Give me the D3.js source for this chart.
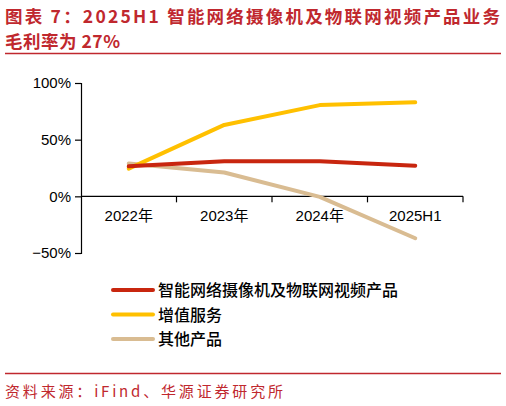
<!DOCTYPE html>
<html>
<head>
<meta charset="utf-8">
<script src="https://cdn.jsdelivr.net/npm/d3@7"></script>
<style>
  body { margin: 0; background: #fff; }
  svg { display: block; }
</style>
</head>
<body>
<script>
"use strict";

var categories = ["2022年", "2023年", "2024年", "2025H1"];
var seriesNames = ["智能网络摄像机及物联网视频产品", "增值服务", "其他产品"];
var cameraValues = [26.5, 31, 31, 27];
var serviceValues = [24.5, 63, 80.5, 83];
var otherValues = [29, 21, -0.5, -37];
var yTicks = [-50, 0, 50, 100];
var seriesColors = ["#C8260F", "#FFC000", "#D9BC92"];

function init() {
  var w = 506;
  var h = 406;
  var red = "#C0282E";
  var font = "'Liberation Sans', Arial, 'Noto Sans CJK SC', sans-serif";
  var cjk = "'Noto Sans CJK SC', sans-serif";

  var svg = d3.select("body")
    .append("svg")
    .attr("width", w)
    .attr("height", h);

  // title
  svg.append("text")
    .attr("x", 5)
    .attr("y", 23)
    .attr("textLength", 495)
    .attr("lengthAdjust", "spacing")
    .attr("font-family", cjk)
    .attr("font-weight", "bold")
    .attr("font-size", "17.5px")
    .attr("fill", red)
    .text("图表 7：2025H1 智能网络摄像机及物联网视频产品业务");

  svg.append("text")
    .attr("x", 5)
    .attr("y", 48)
    .attr("textLength", 115)
    .attr("lengthAdjust", "spacing")
    .attr("font-family", cjk)
    .attr("font-weight", "bold")
    .attr("font-size", "17.5px")
    .attr("fill", red)
    .text("毛利率为 27%");

  svg.append("line")
    .attr("x1", 5).attr("x2", 501)
    .attr("y1", 53.5).attr("y2", 53.5)
    .attr("stroke", red)
    .attr("stroke-width", 1.5);

  var left = 81, right = 463;

  var xScale = d3.scaleBand()
    .domain(categories)
    .range([left, right]);

  var yScale = d3.scaleLinear()
    .domain([-50, 100])
    .range([253, 83]);

  // y axis
  var yAxis = d3.axisLeft(yScale)
    .tickValues(yTicks)
    .tickSize(6)
    .tickPadding(4)
    .tickFormat(function (d) { return d + "%"; });

  var gy = svg.append("g")
    .attr("transform", "translate(" + left + ",0)")
    .call(yAxis);
  gy.select(".domain").attr("stroke", "#000").attr("stroke-width", 1.2);
  gy.selectAll(".tick line").attr("stroke", "#000").attr("stroke-width", 1.2);
  gy.selectAll("text")
    .attr("font-family", font)
    .attr("font-size", "15px")
    .attr("fill", "#000")
    .text(function (d) { return d < 0 ? "\u2212" + (-d) + "%" : d + "%"; });

  // x axis at zero
  var y0 = yScale(0);
  svg.append("line")
    .attr("x1", left).attr("x2", right)
    .attr("y1", y0).attr("y2", y0)
    .attr("stroke", "#000")
    .attr("stroke-width", 1.2);

  var bounds = categories.map(function (c) { return xScale(c) + xScale.bandwidth(); });
  svg.selectAll("line.xtick")
    .data(bounds)
    .enter()
    .append("line")
    .attr("class", "xtick")
    .attr("x1", function (d) { return d; })
    .attr("x2", function (d) { return d; })
    .attr("y1", y0)
    .attr("y2", y0 + 6)
    .attr("stroke", "#000")
    .attr("stroke-width", 1.2);

  svg.selectAll("text.xlabel")
    .data(categories)
    .enter()
    .append("text")
    .attr("class", "xlabel")
    .attr("x", function (d) { return xScale(d) + xScale.bandwidth() / 2; })
    .attr("y", 221)
    .attr("text-anchor", "middle")
    .attr("font-family", font)
    .attr("font-size", "15px")
    .attr("fill", "#000")
    .text(function (d) { return d; });

  // lines
  var allSeries = [cameraValues, serviceValues, otherValues];
  var line = d3.line()
    .x(function (d, i) { return xScale(categories[i]) + xScale.bandwidth() / 2; })
    .y(function (d) { return yScale(d); });

  // draw tan first, then yellow, red on top
  [2, 1, 0].forEach(function (k) {
    svg.append("path")
      .datum(allSeries[k])
      .attr("d", line)
      .attr("fill", "none")
      .attr("stroke", seriesColors[k])
      .attr("stroke-width", 4)
      .attr("stroke-linecap", "round")
      .attr("stroke-linejoin", "round");
  });

  // legend
  var legendY = [290, 314.5, 339];
  var lg = svg.selectAll("g.legend")
    .data(seriesNames)
    .enter()
    .append("g")
    .attr("class", "legend")
    .attr("transform", function (d, i) { return "translate(111," + legendY[i] + ")"; });

  lg.append("line")
    .attr("x1", 2).attr("x2", 42)
    .attr("y1", 0).attr("y2", 0)
    .attr("stroke", function (d, i) { return seriesColors[i]; })
    .attr("stroke-width", 4)
    .attr("stroke-linecap", "round");

  lg.append("text")
    .attr("x", 47)
    .attr("y", 6)
    .attr("font-family", cjk)
    .attr("font-weight", 500)
    .attr("font-size", "16px")
    .attr("fill", "#000")
    .text(function (d) { return d; });

  // footer
  svg.append("line")
    .attr("x1", 5).attr("x2", 501)
    .attr("y1", 373.5).attr("y2", 373.5)
    .attr("stroke", red)
    .attr("stroke-width", 1.5);

  svg.append("text")
    .attr("x", 5)
    .attr("y", 397)
    .attr("textLength", 278)
    .attr("lengthAdjust", "spacing")
    .attr("font-family", cjk)
    .attr("font-size", "15px")
    .attr("fill", red)
    .text("资料来源：iFind、华源证券研究所");
}

window.onload = init;
</script>
</body>
</html>
